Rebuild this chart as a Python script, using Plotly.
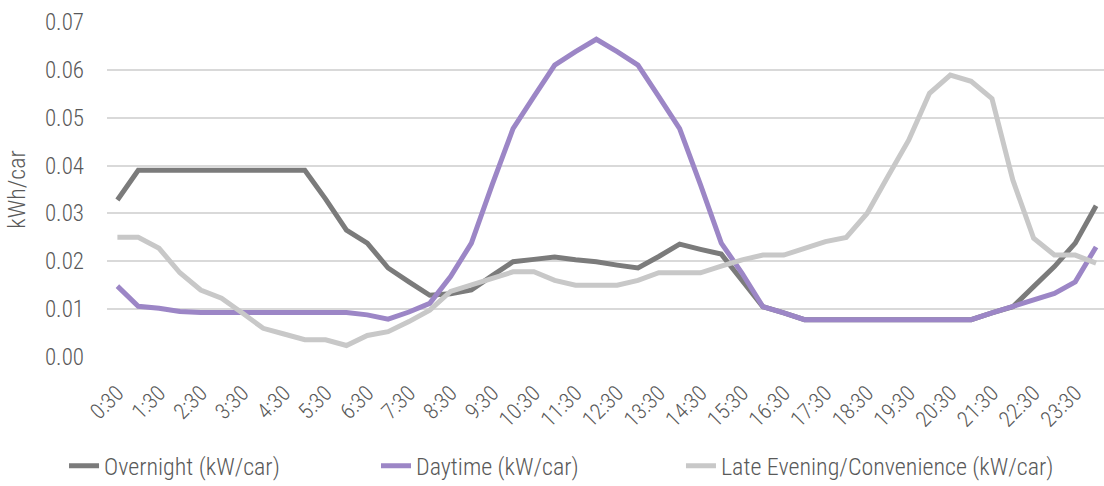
import plotly.graph_objects as go

times = ["0:30","1:00","1:30","2:00","2:30","3:00","3:30","4:00","4:30","5:00","5:30","6:00",
         "6:30","7:00","7:30","8:00","8:30","9:00","9:30","10:00","10:30","11:00","11:30","12:00",
         "12:30","13:00","13:30","14:00","14:30","15:00","15:30","16:00","16:30","17:00","17:30","18:00",
         "18:30","19:00","19:30","20:00","20:30","21:00","21:30","22:00","22:30","23:00","23:30","24:00"]

overnight = [0.0328,0.039,0.039,0.039,0.039,0.039,0.039,0.039,0.039,0.039,0.033,0.0265,
             0.0238,0.0186,0.0157,0.0129,0.0132,0.014,0.0170,0.0199,0.0204,0.0209,0.0203,0.0199,
             0.0192,0.0186,0.0210,0.0236,0.0225,0.0215,0.0160,0.0105,0.0092,0.0078,0.0078,0.0078,
             0.0078,0.0078,0.0078,0.0078,0.0078,0.0078,0.0092,0.0105,0.0147,0.0189,0.0238,0.0316]

daytime = [0.0148,0.0106,0.0102,0.0095,0.0093,0.0093,0.0093,0.0093,0.0093,0.0093,0.0093,0.0093,
           0.0088,0.0079,0.0094,0.0112,0.0168,0.0238,0.0360,0.0477,0.0544,0.0610,0.0638,0.0664,
           0.0638,0.0610,0.0544,0.0477,0.0360,0.0238,0.0175,0.0105,0.0092,0.0078,0.0078,0.0078,
           0.0078,0.0078,0.0078,0.0078,0.0078,0.0078,0.0092,0.0105,0.0119,0.0133,0.0157,0.0230]

late_evening = [0.025,0.025,0.0227,0.0176,0.014,0.0123,0.0092,0.006,0.0048,0.0036,0.0036,0.0024,
                0.0045,0.0053,0.0074,0.0098,0.0137,0.015,0.0165,0.0178,0.0178,0.016,0.015,0.015,
                0.015,0.016,0.0176,0.0176,0.0176,0.019,0.0203,0.0213,0.0213,0.0227,0.0241,0.025,
                0.030,0.0377,0.0453,0.0551,0.0589,0.0576,0.054,0.037,0.0248,0.0213,0.0213,0.0196]

tick_labels = [t for t in times if t.endswith(":30")]

series_names = ["Overnight (kW/car)", "Daytime (kW/car)", "Late Evening/Convenience (kW/car)"]
series_values = [overnight, daytime, late_evening]
series_colors = ["#7b7b7b", "#9c86c6", "#c8c8c8"]
legend_ids = ["legend", "legend2", "legend3"]
legend_x = [-0.0431, 0.2698, 0.5757]

FONT = "Roboto Condensed, Liberation Sans, Arial, sans-serif"
TXT = "#595959"

fig = go.Figure()
for name, vals, col, lid in zip(series_names, series_values, series_colors, legend_ids):
    fig.add_trace(go.Scatter(x=times, y=vals, mode="lines", name=name,
                             line=dict(color=col, width=5), legend=lid))

legend_common = dict(orientation="h", y=-0.259, yanchor="top", xanchor="left",
                     font=dict(family=FONT, size=24, color=TXT, weight=300), bgcolor="rgba(0,0,0,0)")
fig.update_layout(
    width=1104, height=486,
    margin=dict(l=107, r=0, t=22, b=129, autoexpand=False),
    paper_bgcolor="white", plot_bgcolor="white",
    font=dict(family=FONT, color=TXT, size=22, weight=300),
    showlegend=True,
    legend=dict(x=legend_x[0], **legend_common),
    legend2=dict(x=legend_x[1], **legend_common),
    legend3=dict(x=legend_x[2], **legend_common),
)

fig.update_xaxes(type="category", range=[-0.5, 47.38], tickmode="array",
                 tickvals=tick_labels, ticktext=tick_labels, tickangle=-45,
                 showgrid=False, showline=False, ticks="", zeroline=False,
                 ticklabelstandoff=18, automargin=False,
                 tickfont=dict(size=22, color=TXT, weight=300))
fig.update_yaxes(range=[0, 0.07], dtick=0.01, tickformat=".2f", showgrid=True,
                 gridcolor="#d9d9d9", gridwidth=1.5, zeroline=False, showline=False,
                 ticks="", ticklabelstandoff=22, automargin=False,
                 title=dict(text="kWh/car", font=dict(size=24, color=TXT, weight=300), standoff=12),
                 tickfont=dict(size=23, color=TXT, weight=300))

fig.write_html("out.html", config={"displayModeBar": False},
               post_script="document.body.style.margin='0';document.body.style.overflow='hidden';")
